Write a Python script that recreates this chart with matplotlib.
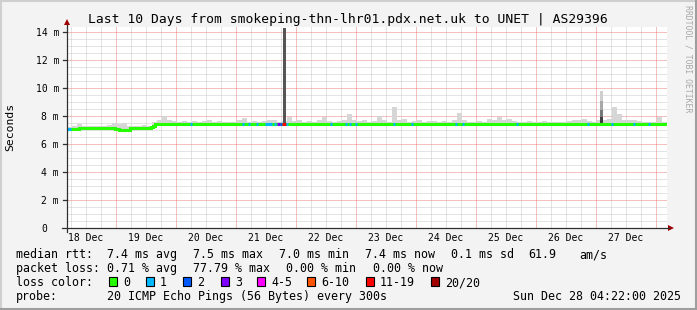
import numpy as np
import matplotlib
matplotlib.use("Agg")
import matplotlib.pyplot as plt
from matplotlib.patches import Rectangle, Polygon
from matplotlib.lines import Line2D
from matplotlib.transforms import blended_transform_factory, offset_copy

W, H = 697, 310
MONO = "DejaVu Sans Mono"

TITLE = "Last 10 Days from smokeping-thn-lhr01.pdx.net.uk to UNET | AS29396"

# time axis: hours since 18 Dec 00:00
T_START, T_END = 4.4, 244.4
DAY_LABELS = ["18 Dec", "19 Dec", "20 Dec", "21 Dec", "22 Dec",
              "23 Dec", "24 Dec", "25 Dec", "26 Dec", "27 Dec"]
Y_VALUES = [0, 2, 4, 6, 8, 10, 12, 14]
Y_LABELS = ["0", "2 m", "4 m", "6 m", "8 m", "10 m", "12 m", "14 m"]
Y_MAX = 14.36

# median rtt (ms), piecewise constant between the edges (hours)
MEDIAN_EDGES = [4.4, 9.0, 23.6, 25.2, 29.6, 38.0, 38.8, 39.6, 244.4]
MEDIAN_MS = [7.05, 7.13, 7.04, 7.03, 7.12, 7.25, 7.32, 7.42]

# smoke top (ms) in 2 h bins from T_START
SMOKE_STEP = 2.0
SMOKE_TOP = [
    7.22, 7.28, 7.45, 7.30, 7.30, 7.28, 7.32, 7.30, 7.35, 7.50,
    7.45, 7.52, 7.30, 7.28, 7.30, 7.35, 7.30, 7.60, 7.70, 8.00,
    7.70, 7.65, 7.60, 7.62, 7.60, 7.68, 7.60, 7.62, 7.70, 7.60,
    7.65, 7.60, 7.58, 7.60, 7.70, 7.85, 7.60, 7.62, 7.60, 7.66,
    7.72, 7.75, 7.60, 7.62, 7.90, 7.62, 7.70, 7.60, 7.65, 7.60,
    7.70, 7.95, 7.65, 7.60, 7.62, 7.70, 8.14, 7.70, 7.62, 7.75,
    7.60, 7.65, 8.00, 7.70, 7.60, 8.67, 7.70, 7.78, 7.60, 7.62,
    7.70, 7.60, 7.62, 7.65, 7.60, 7.62, 7.60, 7.70, 8.24, 7.70,
    7.60, 7.60, 7.62, 7.60, 7.80, 7.70, 7.95, 7.70, 7.80, 7.62,
    7.60, 7.60, 7.62, 7.60, 7.60, 7.62, 7.60, 7.60, 7.60, 7.60,
    7.65, 7.75, 7.70, 7.80, 7.62, 7.60, 7.70, 7.70, 7.80, 8.67,
    8.14, 7.70, 7.70, 7.70, 7.65, 7.60, 7.60, 7.60, 7.95, 7.60,
]

# the two tall bursts
BURST_FROM, BURST_TO, BURST_TOP = 90.8, 92.0, 14.3
SPIKE_FROM, SPIKE_TO = 217.6, 218.8
SPIKE_LEVELS = [7.9, 8.4, 9.1, 9.8]

# packet loss events: start/end (hours) and loss class index
LOSS_FROM = [4.4, 53.6, 74.4, 76.8, 80.0, 83.6, 87.2, 88.4, 89.6, 90.4, 92.0,
             109.6, 115.6, 117.2, 119.6, 134.8, 142.0, 159.6, 162.4, 184.0,
             212.4, 222.0, 230.8, 236.8]
LOSS_TO = [6.0, 54.4, 75.2, 77.6, 80.8, 86.4, 88.0, 89.6, 90.4, 92.0, 92.8,
           110.4, 116.4, 118.0, 120.4, 135.6, 142.8, 160.4, 163.2, 184.8,
           213.2, 222.8, 231.6, 237.6]
LOSS_BIN = [1, 1, 1, 1, 1, 1, 1, 3, 2, 6, 1,
            1, 1, 1, 1, 1, 1, 1, 1, 1,
            1, 1, 1, 1]
LOSS_NAMES = ["0", "1", "2", "3", "4-5", "6-10", "11-19", "20/20"]
LOSS_COLORS = ["#26ff00", "#00b8ff", "#0059ff", "#7e00ff",
               "#ff00ff", "#ff5500", "#ff0000", "#a10000"]

LEGEND_RTT = [("median rtt:", 16), ("7.4 ms avg", 107), ("7.5 ms max", 193),
              ("7.0 ms min", 279), ("7.4 ms now", 365), ("0.1 ms sd", 451),
              ("61.9", 528), ("am/s", 579)]
LEGEND_LOSS = [("packet loss:", 16), ("0.71 % avg", 107), ("77.79 % max", 193),
               ("0.00 % min", 286), ("0.00 % now", 373)]
LEGEND_PROBE = [("probe:", 16), ("20 ICMP Echo Pings (56 Bytes) every 300s", 107),
                ("Sun Dec 28 04:22:00 2025", 513)]
BOX_X = [109, 146, 183, 221, 257, 307, 366, 431]


def fp(x, y):
    return x / W, 1 - y / H


def median_at(t):
    i = np.searchsorted(MEDIAN_EDGES, t, side="right") - 1
    return MEDIAN_MS[min(max(i, 0), len(MEDIAN_MS) - 1)]


fig = plt.figure(figsize=(W / 100, H / 100), dpi=100, facecolor="#f3f3f3")

# 3d-ish frame
fig.add_artist(Line2D([0, 1], [1 - 1 / H] * 2, color="#cfcfcf", lw=1.5))
fig.add_artist(Line2D([1 / W] * 2, [0, 1], color="#cfcfcf", lw=1.5))
fig.add_artist(Line2D([0, 1], [1 / H] * 2, color="#9e9e9e", lw=1.5))
fig.add_artist(Line2D([1 - 1 / W] * 2, [0, 1], color="#9e9e9e", lw=1.5))

x0, y0 = fp(67, 228)
x1, y1 = fp(667, 27)
ax = fig.add_axes([x0, y0, x1 - x0, y1 - y0], facecolor="white")
ax.set_xlim(T_START, T_END)
ax.set_ylim(0, Y_MAX)
for s in ax.spines.values():
    s.set_visible(False)
ax.set_xticks([])
ax.set_yticks([])

# grid
dots = (0, (1, 1))
MAJ, MIN = "#e88080", "#c8c8c8"
for h in range(6, int(T_END) + 1, 6):
    if h <= T_START:
        continue
    major = h % 24 == 0
    ax.axvline(h, color=MAJ if major else MIN, lw=0.72, ls=dots,
               zorder=2 if major else 1)
for v in np.arange(0.5, Y_MAX, 0.5):
    major = abs(v % 2) < 1e-9
    ax.axhline(v, color=MAJ if major else MIN, lw=0.72, ls=dots,
               zorder=2 if major else 1)

# smoke
lefts = T_START + SMOKE_STEP * np.arange(len(SMOKE_TOP))
bases = np.array([median_at(t + SMOKE_STEP / 2) for t in lefts])
ax.bar(lefts, np.array(SMOKE_TOP) - bases, bottom=bases, width=SMOKE_STEP,
       align="edge", color="#d6d6d6", lw=0, zorder=3)

b = median_at(BURST_FROM)
ax.bar(BURST_FROM, BURST_TOP - b, bottom=b, width=BURST_TO - BURST_FROM,
       align="edge", color="#555555", lw=0, zorder=4)

b = median_at(SPIKE_FROM)
grays = ["#404040", "#777777", "#a8a8a8", "#cfcfcf"]
for lv, g in zip(SPIKE_LEVELS, grays):
    ax.bar(SPIKE_FROM, lv - b, bottom=b, width=SPIKE_TO - SPIKE_FROM,
           align="edge", color=g, lw=0, zorder=4)
    b = lv

# median line coloured by loss
ax.stairs(MEDIAN_MS, MEDIAN_EDGES, baseline=None, color=LOSS_COLORS[0],
          lw=2.2, zorder=5, capstyle="butt", joinstyle="miter")
for a, e, k in zip(LOSS_FROM, LOSS_TO, LOSS_BIN):
    ax.hlines(median_at((a + e) / 2), a, e, color=LOSS_COLORS[k], lw=2.2,
              zorder=6)

# axes lines and arrows
axc = "#303030"
fig.add_artist(Line2D(*zip(fp(62, 228), fp(669, 228)), color=axc, lw=0.9))
fig.add_artist(Line2D(*zip(fp(67, 232), fp(67, 25)), color=axc, lw=0.9))
for v in Y_VALUES[1:]:
    trans = blended_transform_factory(fig.transFigure, ax.transData)
    ax.add_artist(Line2D([63 / W, 67 / W], [v, v], transform=trans,
                         color=axc, lw=0.9, clip_on=False))
red = "#a00000"
fig.add_artist(Polygon([fp(674, 228), fp(668, 225), fp(668, 231)],
                       closed=True, color=red, lw=0))
fig.add_artist(Polygon([fp(67, 19), fp(64, 25), fp(70, 25)],
                       closed=True, color=red, lw=0))

# tick labels
ty = blended_transform_factory(fig.transFigure, ax.transData)
ty = offset_copy(ty, fig=fig, y=-3.5, units="dots")
for v, lab in zip(Y_VALUES, Y_LABELS):
    xr = 47 if lab == "0" else 59
    ax.text(xr / W, v, lab, transform=ty, ha="right", va="baseline",
            family=MONO, fontsize=7)
tx = blended_transform_factory(ax.transData, fig.transFigure)
for i, lab in enumerate(DAY_LABELS):
    ax.text(12 + 24 * i, 1 - 241 / H, lab, transform=tx, ha="center",
            va="baseline", family=MONO, fontsize=7)

# title and side texts
fig.text(*fp(348, 23), TITLE, ha="center", va="baseline", family=MONO,
         fontsize=9.4)
fig.text(*fp(10, 127), "Seconds", rotation=90, ha="center", va="center",
         family=MONO, fontsize=8.2)
fig.text(*fp(688, 59), "RRDTOOL / TOBI OETIKER", rotation=270, ha="center",
         va="center", family=MONO, fontsize=5.9, color="#a8a8a8")

# legend
for row, base in ((LEGEND_RTT, 258), (LEGEND_LOSS, 272), (LEGEND_PROBE, 300)):
    for txt, x in row:
        fig.text(*fp(x, base), txt, ha="left", va="baseline", family=MONO,
                 fontsize=8.4)
fig.text(*fp(16, 286), "loss color:", ha="left", va="baseline", family=MONO,
         fontsize=8.4)
for bx, name, col in zip(BOX_X, LOSS_NAMES, LOSS_COLORS):
    lx, ly = fp(bx, 286)
    fig.add_artist(Rectangle((lx, ly), 8 / W, 9 / H, facecolor=col,
                             edgecolor="black", lw=0.8))
    fig.text(*fp(bx + 14, 286), name, ha="left", va="baseline", family=MONO,
             fontsize=8.4)

fig.savefig("out.png", dpi=100, facecolor=fig.get_facecolor())
